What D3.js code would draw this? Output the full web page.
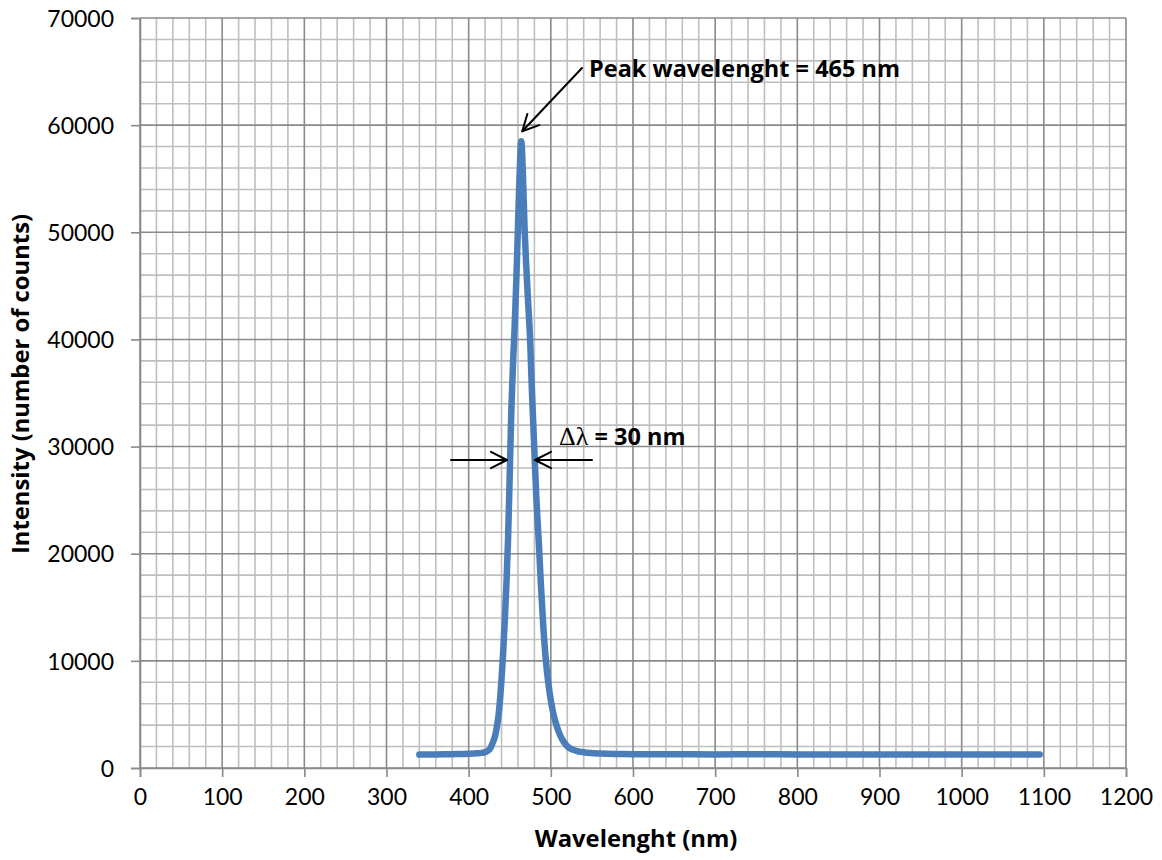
<!DOCTYPE html>
<html>
<head>
<meta charset="utf-8">
<script src="https://cdn.jsdelivr.net/npm/d3@7/dist/d3.min.js"></script>
<style>
  html, body { margin: 0; padding: 0; background: #ffffff; }
  svg { display: block; }
  .tick-label { font-family: Lato, "Open Sans", sans-serif; font-size: 23px; fill: #000; }
  .axis-title { font-family: "Open Sans", Lato, sans-serif; font-size: 23.8px; font-weight: bold; fill: #000; }
  .note { font-family: "Open Sans", Lato, sans-serif; font-size: 23.5px; font-weight: bold; fill: #000; }
</style>
</head>
<body>
<svg id="chart" width="1162" height="860"></svg>
<script>
// Emission spectrum: wavelength (nm) and detector counts
const wavelength = [
  340, 360, 380, 400, 410, 416, 420, 423, 426, 429, 432, 434, 436, 438, 440,
  442, 444, 446, 448, 450, 452, 454, 456, 458, 460, 462, 464,
  466, 468, 470, 472, 474.6, 477, 479.9, 482.5, 485.6, 488,
  491, 494, 497, 500, 503, 506, 510, 514, 518, 522, 527, 533, 540, 548, 560, 580, 600, 650,
  700, 750, 800, 850, 900, 950, 1000, 1050, 1095
];
const intensity = [
  1250, 1260, 1290, 1330, 1370, 1410, 1480, 1600, 1800, 2300, 2950, 3700, 4700, 6200, 8300,
  10800, 13800, 17300, 21500, 27500, 33500, 37800, 41300, 45500, 50500, 55500, 58500,
  55500, 50500, 47000, 44000, 40300, 35200, 29700, 25000, 20700, 17000,
  13000, 10000, 7900, 6300, 5100, 4200, 3300, 2650, 2200, 1900, 1700, 1560, 1470, 1400, 1350, 1310, 1290, 1280,
  1270, 1280, 1270, 1260, 1270, 1260, 1270, 1260, 1260
];

// Axis ticks
const xTicks = [0, 100, 200, 300, 400, 500, 600, 700, 800, 900, 1000, 1100, 1200];
const yTicks = [0, 10000, 20000, 30000, 40000, 50000, 60000, 70000];
const xMinorStep = 20;
const yMinorStep = 2000;

const xTitle = "Wavelenght (nm)";
const yTitle = "Intensity (number of counts)";
const peakNote = "Peak wavelenght = 465 nm";
const peakWavelength = 464;
const peakIntensity = 58500;

const svg = d3.select("#chart");
const plot = { left: 140, right: 1126, top: 18, bottom: 768 };

const x = d3.scaleLinear().domain([0, 1200]).range([plot.left, plot.right]);
const y = d3.scaleLinear().domain([0, 70000]).range([plot.bottom, plot.top]);

svg.append("rect").attr("width", 1162).attr("height", 860).attr("fill", "#ffffff");

// Minor grid
const xMinor = d3.range(0, 1200 + 1, xMinorStep).filter(v => v % 100 !== 0);
const yMinor = d3.range(0, 70000 + 1, yMinorStep).filter(v => v % 10000 !== 0);
const grid = svg.append("g");
grid.selectAll("line.xm").data(xMinor).join("line")
  .attr("x1", d => x(d)).attr("x2", d => x(d))
  .attr("y1", plot.top).attr("y2", plot.bottom)
  .attr("stroke", "#bfbfbf").attr("stroke-width", 1.6);
grid.selectAll("line.ym").data(yMinor).join("line")
  .attr("y1", d => y(d)).attr("y2", d => y(d))
  .attr("x1", plot.left).attr("x2", plot.right)
  .attr("stroke", "#bfbfbf").attr("stroke-width", 1.6);

// Major grid
grid.selectAll("line.xM").data(xTicks).join("line")
  .attr("x1", d => x(d)).attr("x2", d => x(d))
  .attr("y1", plot.top).attr("y2", plot.bottom)
  .attr("stroke", "#8a8a8a").attr("stroke-width", 1.6);
grid.selectAll("line.yM").data(yTicks).join("line")
  .attr("y1", d => y(d)).attr("y2", d => y(d))
  .attr("x1", plot.left).attr("x2", plot.right)
  .attr("stroke", "#8a8a8a").attr("stroke-width", 1.6);

// Axes with outward tick marks
const xAxis = d3.axisBottom(x).tickValues(xTicks).tickSize(9).tickPadding(12).tickFormat(d3.format("d"));
const yAxis = d3.axisLeft(y).tickValues(yTicks).tickSize(9).tickPadding(17).tickFormat(d3.format("d"));

const gx = svg.append("g").attr("transform", `translate(0,${plot.bottom})`).call(xAxis);
const gy = svg.append("g").attr("transform", `translate(${plot.left},0)`).call(yAxis);
[gx, gy].forEach(g => {
  g.select(".domain").attr("stroke", "#8a8a8a").attr("stroke-width", 1.6);
  g.selectAll(".tick line").attr("stroke", "#8a8a8a").attr("stroke-width", 1.6);
  g.selectAll(".tick text").attr("class", "tick-label").attr("font-family", null).attr("font-size", null).attr("fill", null);
});
gy.selectAll(".tick text").attr("dy", "0.36em");

// Spectrum line
const pts = wavelength.map((w, i) => [w, intensity[i]]);
const line = d3.line().x(d => x(d[0])).y(d => y(d[1])).curve(d3.curveMonotoneX);
svg.append("path").datum(pts)
  .attr("d", line)
  .attr("fill", "none")
  .attr("stroke", "#4a7ebb")
  .attr("stroke-width", 6.5)
  .attr("stroke-linejoin", "round")
  .attr("stroke-linecap", "round");

// Axis titles
svg.append("text").attr("class", "axis-title")
  .attr("x", 636).attr("y", 847)
  .attr("text-anchor", "middle").text(xTitle);
svg.append("text").attr("class", "axis-title")
  .attr("transform", "translate(29,384) rotate(-90)")
  .attr("text-anchor", "middle").text(yTitle);

// Open arrowhead helper
function arrow(x1, y1, x2, y2) {
  const g = svg.append("g").attr("stroke", "#000").attr("stroke-width", 2).attr("fill", "none")
    .attr("stroke-linecap", "round").attr("stroke-linejoin", "round");
  g.append("line").attr("x1", x1).attr("y1", y1).attr("x2", x2).attr("y2", y2);
  const ang = Math.atan2(y2 - y1, x2 - x1);
  const len = 18, spread = 0.47;
  const a1 = ang + Math.PI - spread, a2 = ang + Math.PI + spread;
  g.append("polyline").attr("points", [
    [x2 + len * Math.cos(a1), y2 + len * Math.sin(a1)],
    [x2, y2],
    [x2 + len * Math.cos(a2), y2 + len * Math.sin(a2)]
  ].map(p => p.join(",")).join(" "));
}

// Peak annotation
const px = x(peakWavelength), py = y(peakIntensity);
arrow(582, 68, px + 1, py - 10);
svg.append("text").attr("class", "note").attr("x", 589).attr("y", 77).text(peakNote);

// FWHM annotation (half maximum near 30000 counts, 450–480 nm)
const hy = 460;
arrow(451, hy, 507, hy);
arrow(592, hy, 535, hy);
const dl = svg.append("text").attr("class", "note").attr("x", 559).attr("y", 445);
dl.append("tspan").attr("font-family", "'Liberation Serif', 'DejaVu Serif', serif").attr("font-weight", "normal").attr("font-size", 26).text("Δλ");
dl.append("tspan").text(" = 30 nm");
</script>
</body>
</html>
